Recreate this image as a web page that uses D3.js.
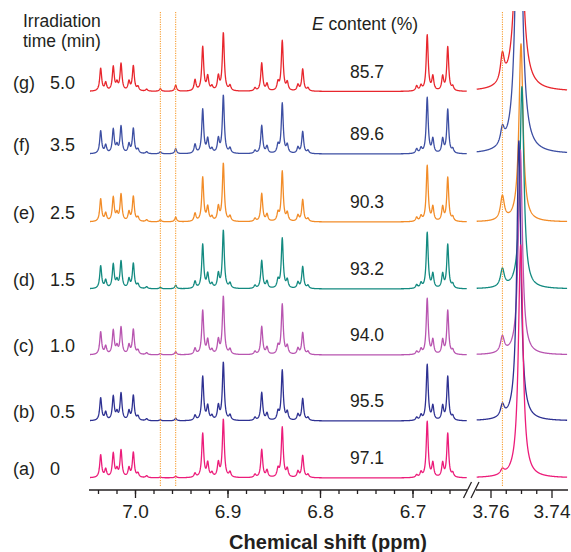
<!DOCTYPE html>
<html>
<head>
<meta charset="utf-8">
<script src="https://cdn.jsdelivr.net/npm/d3@7"></script>
<style>
  body { margin: 0; background: #fff; }
  svg text { font-family: "Liberation Sans", Arial, sans-serif; fill: #231f20; }
</style>
</head>
<body>
<svg id="chart" width="571" height="552"></svg>
<script>
// spectra, bottom (a) to top (g)
const letters = ["(a)", "(b)", "(c)", "(d)", "(e)", "(f)", "(g)"];
const times = ["0", "0.5", "1.0", "1.5", "2.5", "3.5", "5.0"];
const eContent = ["97.1", "95.5", "94.0", "93.2", "90.3", "89.6", "85.7"];
const stackOffset = [0, 57, 123, 189, 256, 324, 386.5];
const colors = ["#ec1c7a", "#2e3192", "#b855b0", "#138a80", "#f28c28", "#3d4fa3", "#e8262d"];

// aromatic peaks of the E isomer (ppm, height)
const aroPpm = [7.0371, 7.0317, 7.0235, 7.0195, 7.0151, 7.0065, 7.0018, 6.9968, 6.9874,
  6.9268, 6.9214, 6.9168, 6.9099, 6.9045, 6.8973, 6.8703, 6.8630, 6.8573, 6.8454, 6.8408,
  6.8354, 6.8238, 6.8187, 6.8130, 6.6908, 6.6841, 6.6780, 6.6674, 6.6619, 6.6565];
const aroHeight = [22.7, 8, 24, 7, 27, 9, 25, 4, 2,
  44, 14, 4, 14, 58, 5, 3, 28, 7, 8, 50,
  8, 6, 22, 3, 5, 56, 14, 14, 44, 4];

// Z isomer peaks (grow with irradiation), one row per peak, columns (a)..(g)
const zPpm = [6.9726, 6.9560, 6.9351, 6.6955];
const zHeight = [
  [0.7, 1, 1.2, 1.5, 2, 2, 2.5],
  [1.5, 2.5, 3, 3.5, 4.5, 5, 6],
  [4, 5, 6, 7, 8, 9, 11],
  [2.5, 3, 3, 3.5, 4, 4.5, 5]
];

// OMe region, columns (a)..(g)
const omePpm = [3.7501, 3.7507, 3.7502, 3.7497, 3.7500, 3.7507, 3.7507];
const omeHeight = [233, 280, 205, 202, 178, 400, 300];
const omeWidth = [0.00177, 0.0016, 0.0016, 0.0016, 0.0016, 0.002, 0.0023];
const zOmePpm = 3.7561;
const zOmeHeight = [5, 12, 16, 18, 24, 16, 27];

const aroWidth = 0.0025, zOmeWidth = 0.0015;
const dottedPpm = [6.9726, 6.9560];

const leftTicks = [7.0, 6.9, 6.8, 6.7];
const leftMinor = d3.range(7.04, 6.65, -0.02).map(v => +v.toFixed(2));
const rightTicks = [3.76, 3.74];
const rightMinor = [3.755, 3.75, 3.745];

const svg = d3.select("#chart");
const axisY = 490;

const xL = d3.scaleLinear().domain([7.0, 6.7]).range([135, 412.5]);
const xR = d3.scaleLinear().domain([3.76, 3.74]).range([490.5, 551.5]);
const y = d3.scaleLinear().domain([0, 466]).range([478, 12]);

function lor(p, p0, h, w) {
  const t = (p - p0) / (w / 2);
  return h / (1 + t * t);
}

function leftIntensity(p, s) {
  let v = 0;
  aroPpm.forEach((p0, i) => { v += lor(p, p0, aroHeight[i], aroWidth); });
  zPpm.forEach((p0, i) => { v += lor(p, p0, zHeight[i][s], aroWidth); });
  return v;
}
function rightIntensity(p, s) {
  return lor(p, omePpm[s], omeHeight[s], omeWidth[s]) + lor(p, zOmePpm, zOmeHeight[s], zOmeWidth);
}

svg.append("clipPath").attr("id", "clip")
  .append("rect").attr("x", 0).attr("y", 11).attr("width", 571).attr("height", 480);

const plot = svg.append("g").attr("clip-path", "url(#clip)");
const line = d3.line().x(d => d[0]).y(d => d[1]);

const leftPx = d3.range(90, 466.8, 0.25);
const rightPx = d3.range(476.7, 567.1, 0.2);

for (let s = 6; s >= 0; s--) {
  const ptsL = leftPx.map(px => {
    const p = xL.invert(px);
    return [xL(p), y(stackOffset[s] + leftIntensity(p, s))];
  });
  const ptsR = rightPx.map(px => {
    const p = xR.invert(px);
    return [xR(p), y(stackOffset[s] + rightIntensity(p, s))];
  });
  [ptsL, ptsR].forEach(pts => {
    plot.append("path").attr("d", line(pts))
      .attr("fill", "none").attr("stroke", colors[s])
      .attr("stroke-width", 1.3).attr("stroke-linejoin", "round");
  });
}

// dotted guides
const guides = dottedPpm.map(p => xL(p)).concat([xR(zOmePpm)]);
svg.selectAll(".guide").data(guides).enter().append("line")
  .attr("class", "guide")
  .attr("x1", d => d).attr("x2", d => d)
  .attr("y1", 12).attr("y2", 487)
  .attr("stroke", "#f7941d").attr("stroke-width", 1)
  .attr("stroke-dasharray", "1.2,1.2");

// labels
letters.forEach((l, s) => {
  const yb = y(stackOffset[s]) - 3;
  svg.append("text").attr("x", 13).attr("y", yb).attr("font-size", 18).text(l);
  svg.append("text").attr("x", 50).attr("y", yb).attr("font-size", 18).text(times[s]);
  svg.append("text").attr("x", 367).attr("y", y(stackOffset[s]) - 14)
    .attr("text-anchor", "middle").attr("font-size", 17.5).text(eContent[s]);
});

svg.append("text").attr("x", 23).attr("y", 27).attr("font-size", 17.5).text("Irradiation");
svg.append("text").attr("x", 23).attr("y", 47).attr("font-size", 17.5).text("time (min)");
const head = svg.append("text").attr("x", 312).attr("y", 30).attr("font-size", 17.5);
head.append("tspan").attr("font-style", "italic").text("E");
head.append("tspan").text(" content (%)");

// axes
const ax = svg.append("g").attr("transform", `translate(0,${axisY})`)
  .attr("font-family", '"Liberation Sans", Arial, sans-serif').attr("color", "#231f20");

function addAxis(scale, minor, major, fmt) {
  ax.append("g").call(d3.axisBottom(scale).tickValues(minor).tickSize(4).tickFormat(""))
    .call(g => g.select(".domain").remove())
    .selectAll("line").attr("stroke-width", 1.3);
  ax.append("g").call(d3.axisBottom(scale).tickValues(major).tickSize(8).tickPadding(6.5).tickFormat(d3.format(fmt)))
    .attr("font-size", 19)
    .call(g => g.select(".domain").remove())
    .call(g => g.selectAll("line").attr("stroke-width", 1.3));
}
addAxis(xL, leftMinor, leftTicks, ".1f");
addAxis(xR, rightMinor, rightTicks, ".2f");

ax.append("line").attr("x1", 89).attr("x2", 467).attr("stroke", "#231f20").attr("stroke-width", 1.6);
ax.append("line").attr("x1", 476).attr("x2", 568).attr("stroke", "#231f20").attr("stroke-width", 1.6);
[[463.5, 471.5], [471, 479]].forEach(([a, b]) => {
  ax.append("line").attr("x1", a).attr("y1", 8).attr("x2", b).attr("y2", -8)
    .attr("stroke", "#231f20").attr("stroke-width", 1.3);
});

svg.append("text").attr("x", 328).attr("y", 549).attr("text-anchor", "middle")
  .attr("font-size", 20).attr("font-weight", "bold").text("Chemical shift (ppm)");
</script>
</body>
</html>
